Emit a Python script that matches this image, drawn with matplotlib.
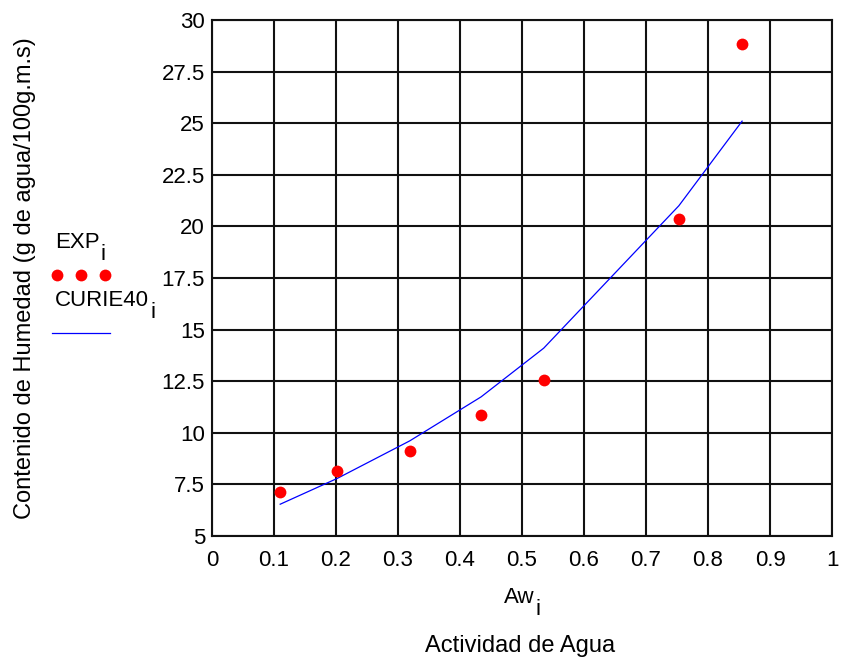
import matplotlib
matplotlib.use('Agg')
import matplotlib.pyplot as plt
import numpy as np

plt.rcParams['font.family'] = ['Liberation Sans', 'DejaVu Sans']

# actividad de agua y humedad de equilibrio
aw = [0.11, 0.202, 0.319, 0.434, 0.535, 0.753, 0.855]
exp_h = [7.15, 8.15, 9.12, 10.86, 12.56, 20.36, 28.86]
curie40 = [6.54, 7.79, 9.61, 11.74, 14.1, 21.0, 25.1]

xticks = np.round(np.arange(0, 1.01, 0.1), 1)
yticks = np.arange(5, 30.1, 2.5)
xlabels = ['0', '0.1', '0.2', '0.3', '0.4', '0.5', '0.6', '0.7', '0.8', '0.9', '1']
ylabels = ['5', '7.5', '10', '12.5', '15', '17.5', '20', '22.5', '25', '27.5', '30']

W, H = 844, 664
fig = plt.figure(figsize=(W / 100, H / 100), dpi=100)
ax = fig.add_axes([212 / W, 1 - 536 / H, 620 / W, 516 / H])

ax.plot(aw, curie40, color='#0000ff', lw=0.9, zorder=3)
ax.plot(aw, exp_h, 'o', color='#ff0000', ms=8.5, mec='none', zorder=4)

ax.set_xlim(0, 1)
ax.set_ylim(5, 30)
ax.set_xticks(xticks)
ax.set_xticklabels(xlabels)
ax.set_yticks(yticks)
ax.set_yticklabels(ylabels)
ax.tick_params(axis='both', length=0, labelsize=16)
ax.tick_params(axis='x', pad=10)
ax.tick_params(axis='y', pad=5)
ax.grid(True, color='#111111', lw=1.5)
ax.set_axisbelow(True)
for s in ax.spines.values():
    s.set_color('#111111')
    s.set_linewidth(1.5)


def sub_text(x, y, main, sub, size=16, align='left'):
    # texto con subindice al estilo Mathcad (mismo tamaño, desplazado hacia abajo)
    t = fig.text(x / W, 1 - y / H, main, fontsize=size, ha='left', va='baseline')
    fig.canvas.draw()
    bb = t.get_window_extent()
    if align == 'center':
        total = bb.width + 0.3 * size
        t.set_x((x - total / 2) / W)
        fig.canvas.draw()
        bb = t.get_window_extent()
    fig.text((bb.x1 + 1) / W, (1 - y / H) - 12 / H, sub, fontsize=size,
             ha='left', va='baseline')


sub_text(522, 603, 'Aw', 'i', align='center')
fig.text(520 / W, 1 - 646 / H, 'Actividad de Agua', fontsize=17, ha='center', va='center')
fig.text(25 / W, 1 - 278 / H, 'Contenido de Humedad (g de agua/100g.m.s)',
         fontsize=17, rotation=90, ha='center', va='center')

# leyenda a la izquierda
sub_text(55, 248, 'EXP', 'i')
sub_text(55, 306, 'CURIE40', 'i')
fig.lines.append(plt.Line2D([57.5 / W, 81 / W, 105 / W], [1 - 275 / H] * 3, ls='none',
                            marker='o', color='#ff0000', ms=8.5, mec='none',
                            transform=fig.transFigure))
fig.lines.append(plt.Line2D([52 / W, 110 / W], [1 - 333 / H] * 2, color='#0000ff',
                            lw=0.9, transform=fig.transFigure))

fig.savefig('out.png', dpi=100)
